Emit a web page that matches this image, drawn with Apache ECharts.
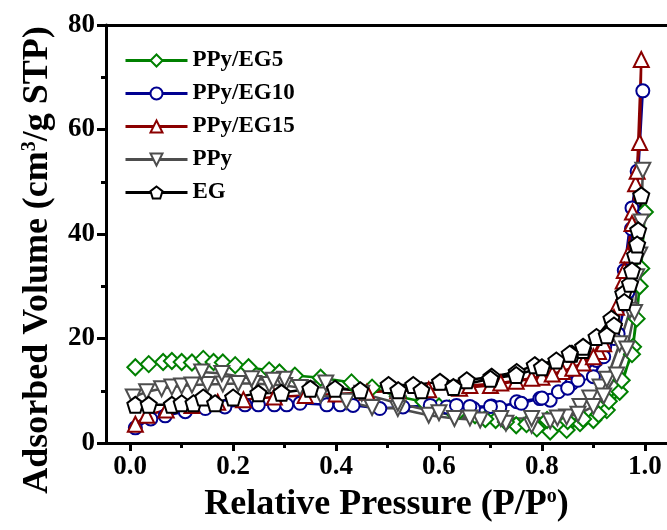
<!DOCTYPE html>
<html>
<head>
<meta charset="utf-8">
<script src="https://cdn.jsdelivr.net/npm/echarts@6/dist/echarts.min.js"></script>
<style>
  html, body { margin: 0; padding: 0; background: #fff; }
  #chart { width: 667px; height: 530px; }
</style>
</head>
<body>
<div id="chart"></div>
<script>
// N2 isotherms, [P/P0, volume]: adsorption branch followed by desorption branch
const ppyEg5 = [
  [0.01, 14.5], [0.036, 15.1], [0.064, 15.5], [0.081, 15.7], [0.1, 15.5], [0.12, 15.4],
  [0.142, 16.1], [0.162, 15.5], [0.18, 15.4], [0.204, 14.9], [0.23, 14.5], [0.27, 13.9],
  [0.29, 13.5], [0.32, 12.9], [0.37, 12.5], [0.43, 11.6], [0.47, 10.6], [0.52, 8.9],
  [0.57, 7.9], [0.62, 6.6], [0.67, 5.3], [0.71, 4.4], [0.75, 3.4], [0.79, 2.8],
  [0.816, 2.2], [0.848, 2.5], [0.874, 3.8], [0.9, 4.4], [0.926, 6.3], [0.951, 9.8],
  [0.977, 18.4], [0.984, 23.8], [0.993, 33.4], [1.0, 44.2],
  [0.99, 30.0], [0.975, 17.0], [0.955, 12.0], [0.93, 8.0], [0.91, 5.5], [0.88, 4.6],
  [0.85, 4.2], [0.81, 4.4], [0.77, 3.6], [0.73, 4.0], [0.69, 4.6], [0.64, 6.2], [0.6, 7.0]
];
const ppyEg10 = [
  [0.01, 2.9], [0.04, 4.6], [0.068, 5.2], [0.107, 6.0], [0.146, 6.6], [0.184, 6.9],
  [0.223, 7.3], [0.249, 7.3], [0.28, 7.3], [0.304, 7.3], [0.33, 7.6], [0.382, 7.3],
  [0.408, 7.3], [0.433, 7.2], [0.485, 6.6], [0.53, 6.9], [0.583, 7.2], [0.615, 6.9],
  [0.634, 7.2], [0.667, 6.6], [0.702, 7.1], [0.718, 6.8], [0.751, 7.9], [0.796, 8.5],
  [0.816, 8.2], [0.832, 9.8], [0.858, 11.4], [0.88, 13.3], [0.906, 15.8], [0.922, 18.4],
  [0.948, 20.9], [0.967, 28.9], [0.974, 41.0], [0.982, 43.0], [0.996, 67.4],
  [0.985, 52.0], [0.975, 45.0], [0.96, 33.0], [0.94, 20.0], [0.92, 16.5], [0.9, 12.7],
  [0.87, 12.0], [0.85, 10.5], [0.8, 8.6], [0.76, 7.6], [0.7, 7.0], [0.66, 7.0]
];
const ppyEg15 = [
  [0.01, 3.6], [0.032, 5.3], [0.07, 6.3], [0.12, 7.2], [0.17, 7.8], [0.22, 8.3],
  [0.28, 8.8], [0.34, 9.1], [0.4, 9.4], [0.46, 9.7], [0.52, 10.0], [0.58, 10.2],
  [0.64, 10.5], [0.7, 11.0], [0.75, 11.8], [0.8, 12.6], [0.84, 13.7], [0.88, 15.3],
  [0.91, 17.5], [0.932, 21.0], [0.945, 26.0], [0.958, 31.0], [0.967, 36.0], [0.976, 44.2],
  [0.982, 49.6], [0.99, 57.5], [0.993, 73.4],
  [0.985, 52.0], [0.975, 42.0], [0.96, 33.0], [0.94, 24.0], [0.92, 19.0], [0.9, 16.5],
  [0.86, 14.3], [0.82, 13.2], [0.78, 12.4], [0.72, 11.5], [0.66, 11.0]
];
const ppy = [
  [0.006, 8.8], [0.032, 9.8], [0.061, 10.4], [0.081, 10.7], [0.1, 10.9], [0.12, 11.1],
  [0.15, 11.2], [0.18, 11.3], [0.21, 11.4], [0.24, 11.4], [0.27, 11.2], [0.3, 11.0],
  [0.33, 10.6], [0.37, 9.2], [0.42, 8.0], [0.47, 6.8], [0.52, 6.6], [0.58, 5.3],
  [0.63, 4.7], [0.68, 4.4], [0.73, 3.8], [0.78, 3.4], [0.816, 4.2], [0.848, 5.0],
  [0.874, 7.0], [0.893, 8.6], [0.913, 10.7], [0.926, 12.2], [0.951, 19.0], [0.971, 25.4],
  [0.984, 31.8], [0.993, 42.3], [0.996, 52.2],
  [0.99, 36.0], [0.98, 25.0], [0.965, 18.0], [0.945, 13.0], [0.92, 9.0], [0.9, 7.0],
  [0.87, 5.5], [0.83, 4.8], [0.78, 4.7], [0.72, 4.7], [0.66, 4.8], [0.6, 5.8],
  [0.52, 7.6], [0.45, 9.5], [0.38, 11.5], [0.3, 12.2], [0.278, 12.0], [0.236, 12.3],
  [0.178, 13.3], [0.139, 13.6]
];
const eg = [
  [0.01, 7.3], [0.036, 7.3], [0.081, 7.3], [0.1, 7.6], [0.123, 7.6], [0.142, 8.7],
  [0.165, 7.6], [0.2, 8.7], [0.249, 9.5], [0.294, 9.6], [0.35, 10.4], [0.398, 10.4],
  [0.447, 10.1], [0.502, 11.1], [0.55, 11.1], [0.602, 11.7], [0.654, 12.0], [0.702, 12.7],
  [0.751, 13.6], [0.786, 14.9], [0.828, 15.8], [0.858, 17.1], [0.88, 17.8], [0.906, 20.3],
  [0.935, 23.8], [0.958, 28.6], [0.971, 30.5], [0.981, 35.9], [0.987, 40.7], [0.993, 47.4],
  [0.985, 38.0], [0.975, 33.0], [0.96, 27.0], [0.94, 22.5], [0.926, 20.6], [0.88, 18.4],
  [0.854, 17.1], [0.8, 14.5], [0.75, 13.0], [0.7, 12.3], [0.628, 10.7], [0.566, 10.1],
  [0.521, 10.1]
];

const xMajorTicks = [0, 0.2, 0.4, 0.6, 0.8, 1.0];
const xMinorTicks = [0.1, 0.3, 0.5, 0.7, 0.9];

const FONT = "'Liberation Serif', 'Times New Roman', serif";
const pentagon = 'path://M0,-10 L9.51,-3.09 L5.88,8.09 L-5.88,8.09 L-9.51,-3.09 Z';

function makeSeries(name, data, color, symbol, size, rotate) {
  return {
    name, type: 'line', data,
    symbol, symbolSize: size, symbolRotate: rotate || 0,
    lineStyle: { color, width: 2.5 },
    itemStyle: { color: '#fff', borderColor: color, borderWidth: 2 },
    z: 2
  };
}

const chart = echarts.init(document.getElementById('chart'));

const xBase = { type: 'value', min: -0.047, max: 1.043, gridIndex: 0 };
const supStyle = { fontFamily: FONT, fontWeight: 'bold', fontSize: 20, verticalAlign: 'top', color: '#000' };

chart.setOption({
  animation: false,
  backgroundColor: '#fff',
  grid: { left: 106, right: 0, top: 25, bottom: 87 },
  legend: {
    orient: 'vertical', left: 119, top: 44,
    itemWidth: 62, itemHeight: 15, itemGap: 10,
    lineStyle: { width: 3 },
    textStyle: { fontFamily: FONT, fontWeight: 'bold', fontSize: 23, color: '#000' },
    data: ['PPy/EG5', 'PPy/EG10', 'PPy/EG15', 'PPy', 'EG']
  },
  xAxis: [
    Object.assign({}, xBase, {
      position: 'bottom',
      name: 'Relative Pressure (P/P{sup|o})',
      nameLocation: 'middle', nameGap: 44,
      nameTextStyle: {
        fontFamily: FONT, fontWeight: 'bold', fontSize: 36, color: '#000',
        rich: { sup: supStyle }
      },
      axisLine: { onZero: false, lineStyle: { color: '#000', width: 3 } },
      axisTick: { inside: false, length: 8, lineStyle: { width: 3 }, customValues: xMajorTicks },
      axisLabel: {
        customValues: xMajorTicks, margin: 11,
        fontFamily: FONT, fontWeight: 'bold', fontSize: 27, color: '#000',
        formatter: v => v.toFixed(1)
      },
      splitLine: { show: false }
    }),
    Object.assign({}, xBase, {
      position: 'bottom',
      axisLine: { show: false },
      axisTick: { inside: false, length: 5, lineStyle: { width: 3, color: '#000' }, customValues: xMinorTicks },
      axisLabel: { show: false },
      splitLine: { show: false }
    }),
    Object.assign({}, xBase, {
      position: 'top',
      axisLine: { onZero: false, lineStyle: { color: '#000', width: 3 } },
      axisTick: { show: false },
      axisLabel: { show: false },
      splitLine: { show: false }
    })
  ],
  yAxis: {
    type: 'value', min: 0, max: 80, interval: 20,
    name: 'Adsorbed Volume (cm{sup|3}/g STP)',
    nameLocation: 'middle', nameGap: 50,
    nameTextStyle: {
      fontFamily: FONT, fontWeight: 'bold', fontSize: 36, color: '#000',
      padding: [0, 52, 0, 0],
      rich: { sup: supStyle }
    },
    axisLine: { onZero: false, lineStyle: { color: '#000', width: 3 } },
    axisTick: { inside: false, length: 9, lineStyle: { width: 3 } },
    minorTick: { show: true, splitNumber: 2, length: 5, lineStyle: { width: 3, color: '#000' } },
    axisLabel: { fontFamily: FONT, fontWeight: 'bold', fontSize: 27, color: '#000', margin: 11 },
    splitLine: { show: false },
    minorSplitLine: { show: false }
  },
  series: [
    makeSeries('PPy/EG5', ppyEg5, '#008000', 'diamond', 16),
    makeSeries('PPy/EG10', ppyEg10, '#000090', 'circle', 13),
    makeSeries('PPy/EG15', ppyEg15, '#8b0000', 'triangle', 15),
    makeSeries('PPy', ppy, '#4d4d4d', 'triangle', 15, 180),
    makeSeries('EG', eg, '#000000', pentagon, 16)
  ]
});
</script>
</body>
</html>
